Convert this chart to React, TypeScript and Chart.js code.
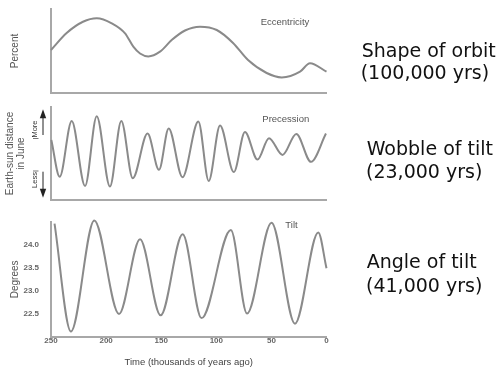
import React, { useEffect, useRef } from 'react';
import { Chart, registerables } from 'chart.js';

Chart.register(...registerables);

// ---------- data ----------
// time axis, thousands of years ago
const timeTicks = [250, 200, 150, 100, 50, 0];

// Eccentricity (percent)
const eccentricityTime = [250, 235.8, 221, 208.5, 194.9, 182.8, 175.3, 169.2, 161.7, 151.1, 140.5, 128.4, 114.8, 99.6, 84.8, 71.2, 54.3, 40.6, 24.0, 15.0, 0];
const eccentricityValue = [2.56, 3.57, 4.24, 4.45, 4.15, 3.55, 2.76, 2.35, 2.18, 2.46, 3.15, 3.72, 3.95, 3.75, 2.98, 1.96, 1.19, 0.93, 1.27, 1.77, 1.27];

// Precession (relative Earth-sun distance in June)
const precessionTime = [249.7, 242.1, 231.2, 219.1, 208.5, 196.5, 186.2, 175.8, 162.4, 152.0, 143.2, 130.7, 116.3, 106.9, 96.6, 84.1, 74.0, 62.6, 52.2, 39.9, 27.4, 14.1, 0.5];
const precessionValue = [0.29, -0.5, 0.7, -0.7, 0.8, -0.71, 0.7, -0.53, 0.43, -0.35, 0.54, -0.51, 0.69, -0.59, 0.6, -0.4, 0.46, -0.13, 0.33, -0.03, 0.42, -0.18, 0.43];

// Tilt (degrees)
const tiltTime = [246.8, 231.9, 210.7, 188.3, 169.2, 150.5, 130.5, 113.4, 86.8, 72.1, 49.9, 28.6, 7.5, 0];
const tiltValue = [24.46, 22.12, 24.53, 22.5, 24.12, 22.47, 24.23, 22.41, 24.32, 22.51, 24.48, 22.29, 24.27, 23.49];
const tiltTicks = [22.5, 23.0, 23.5, 24.0];

// ---------- styles ----------
const FONT = '"Liberation Sans", Arial, Helvetica, sans-serif';
const NOTE_FONT = '"DejaVu Sans", sans-serif';
const LINE = '#8a8a8a';
const AXIS = '#a8a8a8';
const W = 499;
const PLOT_RIGHT = 326.5;
const PLOT_LEFT = 51;

type Label = {
  text: string; x: number; y: number; size: number; family: string; color: string;
  align: CanvasTextAlign; baseline: CanvasTextBaseline; rotate?: number; weight?: string;
};
type Shape = { pts: [number, number][]; fill?: boolean; color: string; width?: number };

type Spec = {
  top: number; height: number; padTop: number; xHeight: number;
  time: number[]; value: number[]; yMin: number; yMax: number;
  yTitle: string | string[]; yTitlePad: number; yTitleLH: number;
  showX: boolean; yTicks?: number[];
  labels: Label[]; shapes: Shape[];
};

const label = (text: string, x: number, y: number, extra: Partial<Label> = {}): Label => ({
  text, x, y, size: 9.5, family: FONT, color: '#555', align: 'center', baseline: 'middle', ...extra,
});
const note = (text: string, x: number, y: number): Label => ({
  text, x, y, size: 19, family: NOTE_FONT, color: '#111', align: 'left', baseline: 'alphabetic',
});

const panels: Spec[] = [
  {
    top: 0, height: 100, padTop: 9, xHeight: 7,
    time: eccentricityTime, value: eccentricityValue, yMin: 0, yMax: 5,
    yTitle: 'Percent', yTitlePad: 9, yTitleLH: 1.2, showX: false,
    labels: [
      label('Eccentricity', 285, 22.7),
      note('Shape of orbit', 361.7, 56.7),
      note('(100,000 yrs)', 360.7, 79.3),
    ],
    shapes: [],
  },
  {
    top: 100, height: 105, padTop: 7, xHeight: 5,
    time: precessionTime, value: precessionValue, yMin: -1, yMax: 1,
    yTitle: ['Earth-sun distance', 'in June'], yTitlePad: 4.25, yTitleLH: 1.15, showX: false,
    labels: [
      label('Precession', 285.8, 19),
      note('Wobble of tilt', 366.7, 55),
      note('(23,000 yrs)', 366, 78),
      label('More', 35, 29, { rotate: -Math.PI / 2, size: 7.5, color: '#333' }),
      label('Less', 35, 80, { rotate: -Math.PI / 2, size: 7.5, color: '#333' }),
    ],
    shapes: [
      { pts: [[43, 35], [43, 17]], color: '#222', width: 1 },
      { pts: [[43, 9.3], [39.8, 18.3], [46.2, 18.3]], fill: true, color: '#222' },
      { pts: [[43, 71.7], [43, 89]], color: '#222', width: 1 },
      { pts: [[43, 97.7], [39.8, 88.7], [46.2, 88.7]], fill: true, color: '#222' },
      { pts: [[33, 38.5], [38.5, 38.5]], color: '#777', width: 1 },
      { pts: [[33, 71], [38.5, 71]], color: '#777', width: 1 },
    ],
  },
  {
    top: 205, height: 166, padTop: 7, xHeight: 34,
    time: tiltTime, value: tiltValue, yMin: 22, yMax: 24.5,
    yTitle: 'Degrees', yTitlePad: 9, yTitleLH: 1.2, showX: true, yTicks: tiltTicks,
    labels: [
      label('Tilt', 291.5, 20.7),
      note('Angle of tilt', 366.7, 63.3),
      note('(41,000 yrs)', 366, 86.7),
    ],
    shapes: [],
  },
];

function makeOverlay(spec: Spec) {
  return {
    id: 'overlay',
    afterDraw(chart: any) {
      const ctx: CanvasRenderingContext2D = chart.ctx;
      ctx.save();
      for (const s of spec.shapes) {
        ctx.beginPath();
        s.pts.forEach(([x, y], i) => (i ? ctx.lineTo(x, y) : ctx.moveTo(x, y)));
        if (s.fill) {
          ctx.closePath();
          ctx.fillStyle = s.color;
          ctx.fill();
        } else {
          ctx.strokeStyle = s.color;
          ctx.lineWidth = s.width || 1;
          ctx.stroke();
        }
      }
      for (const l of spec.labels) {
        ctx.save();
        ctx.font = `${l.weight || 'normal'} ${l.size}px ${l.family}`;
        ctx.fillStyle = l.color;
        ctx.textAlign = l.align;
        ctx.textBaseline = l.baseline;
        ctx.translate(l.x, l.y);
        if (l.rotate) ctx.rotate(l.rotate);
        ctx.fillText(l.text, 0, 0);
        ctx.restore();
      }
      ctx.restore();
    },
  };
}

function Panel({ spec }: { spec: Spec }) {
  const ref = useRef<HTMLCanvasElement>(null);
  useEffect(() => {
    if (!ref.current) return;
    const chart = new Chart(ref.current, {
      type: 'line',
      data: {
        datasets: [
          {
            data: spec.time.map((t, i) => ({ x: t, y: spec.value[i] })),
            borderColor: LINE,
            borderWidth: 2,
            pointRadius: 0,
            cubicInterpolationMode: 'monotone',
            fill: false,
            clip: false as any,
          },
        ],
      },
      options: {
        animation: false,
        responsive: false,
        events: [],
        layout: { padding: { top: spec.padTop, right: W - PLOT_RIGHT, left: 0, bottom: 0 } },
        plugins: { legend: { display: false }, tooltip: { enabled: false } },
        scales: {
          x: {
            type: 'linear',
            reverse: true,
            min: 0,
            max: 250,
            grid: { display: false, drawTicks: false },
            border: { display: true, color: AXIS, width: 2 },
            ticks: {
              display: spec.showX,
              padding: -1,
              autoSkip: false,
              maxRotation: 0,
              color: '#666',
              font: { size: 8, weight: 'bold', family: FONT },
              callback: (v: any) => String(v),
            },
            afterBuildTicks: (s: any) => {
              s.ticks = timeTicks.map((v) => ({ value: v }));
            },
            afterFit: (s: any) => {
              s.height = spec.xHeight;
            },
            title: {
              display: spec.showX,
              text: 'Time (thousands of years ago)',
              color: '#444',
              font: { size: 9.5, family: FONT },
              padding: { top: 0, bottom: 2.6 },
            },
          },
          y: {
            min: spec.yMin,
            max: spec.yMax,
            grid: { display: false, drawTicks: false },
            border: { display: true, color: AXIS, width: 2 },
            ticks: {
              display: !!spec.yTicks,
              padding: 12,
              color: '#666',
              font: { size: 8, weight: 'bold', family: FONT },
              callback: (v: any) => Number(v).toFixed(1),
            },
            afterBuildTicks: (s: any) => {
              if (spec.yTicks) s.ticks = spec.yTicks.map((v) => ({ value: v }));
            },
            afterFit: (s: any) => {
              s.width = PLOT_LEFT;
            },
            title: {
              display: true,
              text: spec.yTitle,
              color: '#555',
              font: { size: 10, family: FONT, lineHeight: spec.yTitleLH },
              padding: { top: spec.yTitlePad, bottom: 0 },
            },
          },
        },
      } as any,
      plugins: [makeOverlay(spec)],
    });
    return () => chart.destroy();
  }, [spec]);
  return (
    <canvas
      ref={ref}
      width={W}
      height={spec.height}
      style={{ position: 'absolute', left: 0, top: spec.top, width: W, height: spec.height, display: 'block' }}
    />
  );
}

export default function App() {
  return (
    <div style={{ position: 'fixed', left: 0, top: 0, width: W, height: 371, background: '#fff', overflow: 'hidden' }}>
      {panels.map((p, i) => (
        <Panel key={i} spec={p} />
      ))}
    </div>
  );
}
